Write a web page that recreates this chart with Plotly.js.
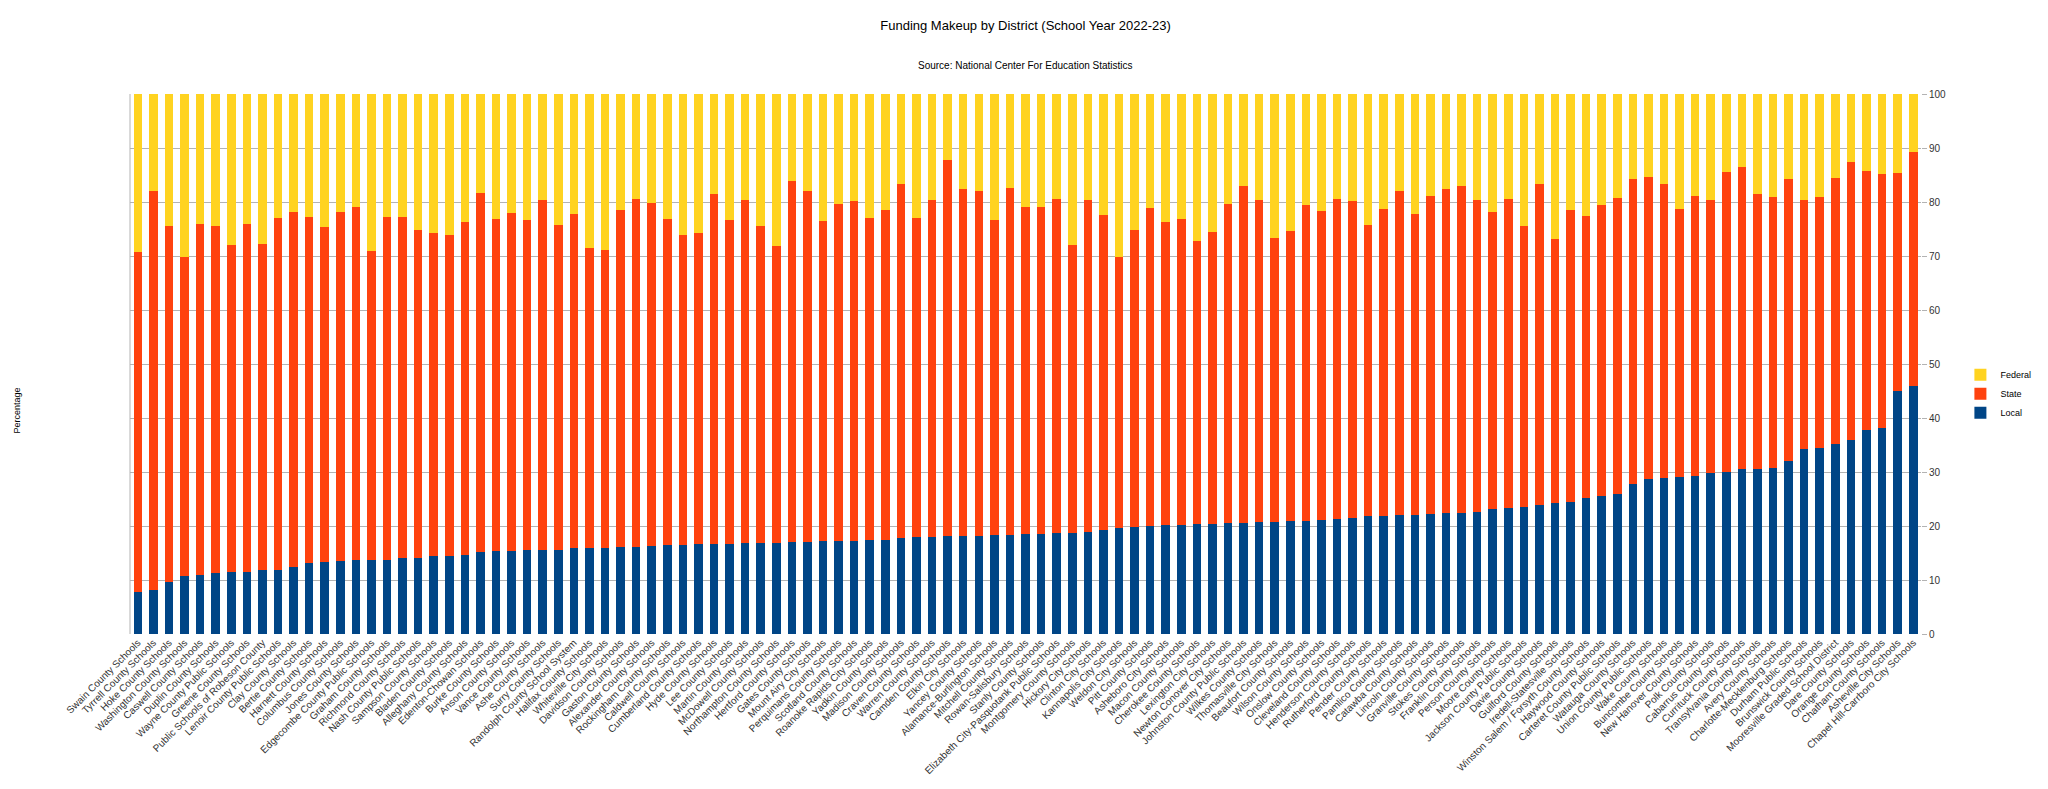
<!DOCTYPE html>
<html>
<head>
<meta charset="utf-8">
<script src="https://cdn.plot.ly/plotly-3.0.1.min.js"></script>
<style>
  html, body { margin: 0; padding: 0; background: #ffffff; }
  #chart { width: 2048px; height: 789px; }
</style>
</head>
<body>
<div id="chart"></div>
<script>
const districts = [
  "Swain County Schools", "Tyrrell County Schools", "Hoke County Schools", "Washington County Schools",
  "Caswell County Schools", "Duplin County Schools", "Wayne County Public Schools", "Greene County Schools",
  "Public Schools of Robeson County", "Lenoir County Public Schools", "Clay County Schools", "Bertie County Schools",
  "Harnett County Schools", "Columbus County Schools", "Jones County Schools", "Edgecombe County Public Schools",
  "Graham County Schools", "Richmond County Schools", "Nash County Public Schools", "Sampson County Schools",
  "Bladen County Schools", "Alleghany County Schools", "Edenton-Chowan Schools", "Burke County Schools",
  "Anson County Schools", "Vance County Schools", "Ashe County Schools", "Surry County Schools",
  "Randolph County School System", "Halifax County Schools", "Whiteville City Schools", "Davidson County Schools",
  "Gaston County Schools", "Alexander County Schools", "Rockingham County Schools", "Caldwell County Schools",
  "Cumberland County Schools", "Hyde County Schools", "Lee County Schools", "Martin County Schools",
  "McDowell County Schools", "Northampton County Schools", "Hertford County Schools", "Gates County Schools",
  "Mount Airy City Schools", "Perquimans County Schools", "Scotland County Schools", "Roanoke Rapids City Schools",
  "Yadkin County Schools", "Madison County Schools", "Craven County Schools", "Warren County Schools",
  "Camden County Schools", "Elkin City Schools", "Yancey County Schools", "Alamance-Burlington Schools",
  "Mitchell County Schools", "Rowan-Salisbury Schools", "Stanly County Schools", "Elizabeth City-Pasquotank Public Schools",
  "Montgomery County Schools", "Hickory City Schools", "Clinton City Schools", "Kannapolis City Schools",
  "Weldon City Schools", "Pitt County Schools", "Asheboro City Schools", "Macon County Schools",
  "Cherokee County Schools", "Lexington City Schools", "Newton Conover City Schools", "Johnston County Public Schools",
  "Wilkes County Schools", "Thomasville City Schools", "Beaufort County Schools", "Wilson County Schools",
  "Onslow County Schools", "Cleveland County Schools", "Henderson County Schools", "Rutherford County Schools",
  "Pender County Schools", "Pamlico County Schools", "Catawba County Schools", "Lincoln County Schools",
  "Granville County Schools", "Stokes County Schools", "Franklin County Schools", "Person County Schools",
  "Moore County Schools", "Jackson County Public Schools", "Davie County Schools", "Guilford County Schools",
  "Iredell-Statesville Schools", "Winston Salem / Forsyth County Schools", "Haywood County Schools", "Carteret County Public Schools",
  "Watauga County Schools", "Union County Public Schools", "Wake County Schools", "Buncombe County Schools",
  "New Hanover County Schools", "Polk County Schools", "Cabarrus County Schools", "Currituck County Schools",
  "Transylvania County Schools", "Avery County Schools", "Charlotte-Mecklenburg Schools", "Durham Public Schools",
  "Brunswick County Schools", "Mooresville Graded School District", "Dare County Schools", "Orange County Schools",
  "Chatham County Schools", "Asheville City Schools", "Chapel Hill-Carrboro City Schools"
];

const localPct = [
  7.8, 8.1, 9.7, 10.8, 10.9, 11.3, 11.4, 11.5, 11.9, 11.9,
  12.5, 13.2, 13.4, 13.5, 13.7, 13.7, 13.7, 14.1, 14.1, 14.4,
  14.4, 14.7, 15.2, 15.3, 15.3, 15.5, 15.6, 15.6, 16.0, 16.0,
  16.0, 16.2, 16.2, 16.3, 16.5, 16.5, 16.6, 16.7, 16.7, 16.9,
  16.9, 16.9, 17.1, 17.1, 17.2, 17.3, 17.3, 17.4, 17.5, 17.7,
  17.9, 18.0, 18.1, 18.1, 18.2, 18.3, 18.4, 18.5, 18.6, 18.7,
  18.7, 18.8, 19.2, 19.7, 19.9, 20.0, 20.1, 20.2, 20.3, 20.4,
  20.5, 20.6, 20.7, 20.8, 20.9, 21.0, 21.1, 21.3, 21.5, 21.8,
  21.9, 22.0, 22.1, 22.3, 22.4, 22.5, 22.6, 23.1, 23.4, 23.5,
  23.8, 24.2, 24.4, 25.2, 25.5, 26.0, 27.8, 28.7, 28.8, 29.1,
  29.2, 29.8, 30.0, 30.5, 30.6, 30.8, 32.1, 34.2, 34.4, 35.2,
  36.0, 37.8, 38.2, 45.0, 46.0
];

const statePct = [
  63.0, 74.0, 65.8, 59.0, 65.1, 64.3, 60.6, 64.5, 60.3, 65.2,
  65.7, 64.1, 62.0, 64.6, 65.3, 57.2, 63.6, 63.2, 60.8, 59.9,
  59.5, 61.6, 66.4, 61.5, 62.7, 61.2, 64.7, 60.1, 61.7, 55.5,
  55.2, 62.4, 64.4, 63.6, 60.3, 57.4, 57.7, 64.8, 60.0, 63.4,
  58.6, 54.9, 66.7, 65.0, 59.3, 62.4, 62.9, 59.7, 61.1, 65.7,
  59.1, 62.3, 69.7, 64.3, 63.9, 58.3, 64.2, 60.5, 60.4, 61.9,
  53.4, 61.6, 58.4, 50.1, 55.0, 58.9, 56.2, 56.6, 52.5, 54.0,
  59.1, 62.3, 59.6, 52.6, 53.7, 58.5, 57.3, 59.2, 58.7, 54.0,
  56.8, 60.1, 55.7, 58.8, 60.0, 60.4, 57.7, 55.1, 57.2, 52.0,
  59.6, 49.0, 54.1, 52.2, 53.9, 54.8, 56.5, 55.9, 54.5, 49.6,
  51.9, 50.6, 55.5, 56.0, 50.8, 50.2, 52.2, 46.2, 46.6, 49.3,
  51.4, 48.0, 46.9, 40.3, 43.3
];

const federalPct = [
  29.2, 17.9, 24.5, 30.2, 24.0, 24.4, 28.0, 24.0, 27.8, 22.9,
  21.8, 22.7, 24.6, 21.9, 21.0, 29.1, 22.7, 22.7, 25.1, 25.7,
  26.1, 23.7, 18.4, 23.2, 22.0, 23.3, 19.7, 24.3, 22.3, 28.5,
  28.8, 21.4, 19.4, 20.1, 23.2, 26.1, 25.7, 18.5, 23.3, 19.7,
  24.5, 28.2, 16.2, 17.9, 23.5, 20.3, 19.8, 22.9, 21.4, 16.6,
  23.0, 19.7, 12.2, 17.6, 17.9, 23.4, 17.4, 21.0, 21.0, 19.4,
  27.9, 19.6, 22.4, 30.2, 25.1, 21.1, 23.7, 23.2, 27.2, 25.6,
  20.4, 17.1, 19.7, 26.6, 25.4, 20.5, 21.6, 19.5, 19.8, 24.2,
  21.3, 17.9, 22.2, 18.9, 17.6, 17.1, 19.7, 21.8, 19.4, 24.5,
  16.6, 26.8, 21.5, 22.6, 20.6, 19.2, 15.7, 15.4, 16.7, 21.3,
  18.9, 19.6, 14.5, 13.5, 18.6, 19.0, 15.7, 19.6, 19.0, 15.5,
  12.6, 14.2, 14.9, 14.7, 10.7
];

const yTicks = [0, 10, 20, 30, 40, 50, 60, 70, 80, 90, 100];

const FONT = "Liberation Sans, Arial, sans-serif";

const traces = [
  { name: "Local", x: districts, y: localPct, type: "bar", marker: { color: "#004586" } },
  { name: "State", x: districts, y: statePct, type: "bar", marker: { color: "#ff420e" } },
  { name: "Federal", x: districts, y: federalPct, type: "bar", marker: { color: "#ffd320" } }
];

const layout = {
  width: 2048,
  height: 789,
  paper_bgcolor: "#ffffff",
  plot_bgcolor: "#ffffff",
  font: { family: FONT, size: 10, color: "#333333" },
  barmode: "stack",
  bargap: 0.45,
  margin: { l: 130, r: 93, t: 94, b: 155, pad: 0 },
  title: {
    text: "Funding Makeup by District (School Year 2022-23)",
    font: { family: FONT, size: 13, color: "#000000" },
    x: 0.5, xref: "paper", xanchor: "center",
    y: 1 - 25 / 789, yref: "container", yanchor: "middle"
  },
  xaxis: {
    type: "category",
    tickangle: -45,
    tickfont: { family: FONT, size: 10, color: "#333333" },
    showgrid: false,
    showline: false,
    zeroline: false,
    ticks: "",
    automargin: false
  },
  yaxis: {
    side: "right",
    range: [0, 100],
    tickvals: yTicks,
    ticktext: yTicks.map(String),
    showgrid: true,
    gridcolor: "#b3b3b3",
    gridwidth: 1,
    zeroline: false,
    showline: false,
    ticks: "outside",
    ticklen: 5,
    tickcolor: "#b3b3b3",
    tickfont: { family: FONT, size: 10, color: "#333333" },
    automargin: false
  },
  legend: {
    x: 1.022, xanchor: "left",
    y: 0.445, yanchor: "middle",
    traceorder: "reversed",
    font: { family: FONT, size: 9, color: "#000000" },
    itemwidth: 30,
    tracegroupgap: 0,
    bgcolor: "rgba(0,0,0,0)"
  },
  shapes: [
    { type: "line", xref: "paper", yref: "paper", x0: 0, x1: 0, y0: 0, y1: 1,
      line: { color: "#b3b3b3", width: 1 } }
  ],
  annotations: [
    {
      text: "Source: National Center For Education Statistics",
      xref: "paper", yref: "paper",
      x: 0.5, y: (634.5 - 65) / 540.5, xanchor: "center", yanchor: "middle",
      showarrow: false,
      font: { family: FONT, size: 10, color: "#000000" }
    },
    {
      text: "Percentage",
      xref: "paper", yref: "paper",
      x: -0.0633, y: 0.413, xanchor: "center", yanchor: "middle",
      textangle: -90,
      showarrow: false,
      font: { family: FONT, size: 9, color: "#000000" }
    }
  ]
};

Plotly.newPlot("chart", traces, layout, { displayModeBar: false, staticPlot: true });
</script>
</body>
</html>
